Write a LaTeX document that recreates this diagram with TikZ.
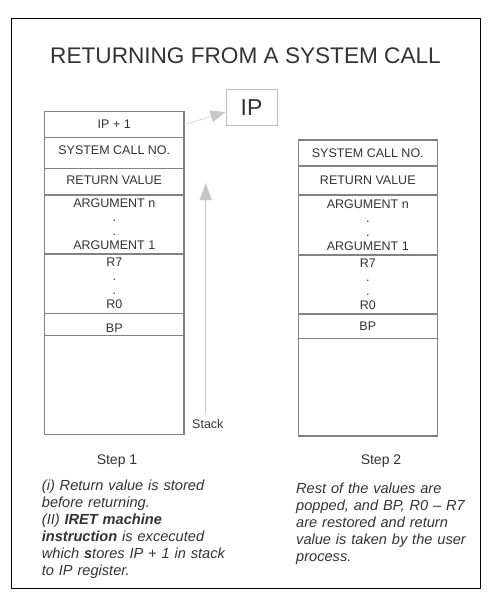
\documentclass[tikz,border=0pt]{standalone}
\usepackage{fontspec}
\setmainfont{Liberation Sans}
\usetikzlibrary{arrows.meta,calc}
\definecolor{boxline}{HTML}{828282}
\definecolor{txt}{HTML}{333333}
\definecolor{arrowgray}{HTML}{C6C6C6}
\definecolor{ipline}{HTML}{BDBDBD}
\begin{document}
\begin{tikzpicture}[x=1pt,y=-1pt,
  cell/.style={draw=boxline, line width=1.2pt, inner sep=0pt, minimum width=139.5pt,
    text=txt, font=\fontsize{12.5}{14}\selectfont},
  mcell/.style={cell, align=center},
  steplabel/.style={text=txt, font=\fontsize{14}{16}\selectfont, inner sep=0pt},
  para/.style={text=txt, font=\fontsize{14.6}{17}\selectfont\itshape, inner sep=0pt,
    text width=230pt, align=left, anchor=base west},
  grayarrow/.style={draw=arrowgray, line width=1pt,
    -{Triangle[length=17pt,width=12pt,fill=arrowgray]}}]
\useasboundingbox (0,0) rectangle (487,604);
% frame
\node[draw=black, line width=0.9pt, minimum width=469pt, minimum height=570pt, inner sep=0pt] (frame) at (246,303.5) {};
% title
\node[text=txt, font=\fontsize{22.6}{26}\selectfont, anchor=base, inner sep=0pt] (title) at (245.5,63.3) {RETURNING FROM A SYSTEM CALL};
% left stack
\node[cell, minimum height=25.6pt] (l1) at (114.25,124.5) {IP + 1};
\node[cell, minimum height=31pt, text height=4pt, text depth=0pt] (l2) at (114.25,152.8) {SYSTEM CALL NO.};
\node[cell, minimum height=26.7pt, text height=5pt, text depth=0pt] (l3) at (114.25,181.65) {RETURN VALUE};
\node[mcell, minimum height=59pt] (l4) at (114.25,224.5) {ARGUMENT n\\.\\.\\ARGUMENT 1};
\node[mcell, minimum height=59.3pt] (l5) at (114.25,283.65) {R7\\.\\.\\R0};
\node[cell, minimum height=22.4pt, text height=15pt, text depth=0pt] (l6) at (114.25,324.5) {BP};
\node[cell, minimum height=98.6pt] (l7) at (114.25,385) {};
% right stack
\node[cell, minimum width=139pt, minimum height=26pt] (r1) at (367.8,153) {SYSTEM CALL NO.};
\node[cell, minimum width=139pt, minimum height=29pt] (r2) at (367.8,180.5) {RETURN VALUE};
\node[mcell, minimum width=139pt, minimum height=60pt] (r3) at (367.8,225) {ARGUMENT n\\.\\.\\ARGUMENT 1};
\node[mcell, minimum width=139pt, minimum height=59pt] (r4) at (367.8,284.5) {R7\\.\\.\\R0};
\node[cell, minimum width=139pt, minimum height=24.3pt] (r5) at (367.8,326.15) {BP};
\node[cell, minimum width=139pt, minimum height=97.7pt] (r6) at (367.8,387.15) {};
% IP box
\node[draw=ipline, line width=1pt, minimum width=51pt, minimum height=36pt, inner sep=0pt,
  text=txt, font=\fontsize{23}{26}\selectfont] (ip) at (251.5,108) {IP};
\draw[draw=arrowgray, line width=1pt, densely dotted,
  -{Triangle[length=15pt,width=12pt,fill=arrowgray]}] (l1.east) -- ([yshift=-4pt]ip.west);
% stack arrow
\coordinate (sbot) at (205.7,413);
\coordinate (stop) at (205.7,183);
\draw[grayarrow] (sbot) -- (stop);
\node[text=txt, font=\fontsize{12.5}{14}\selectfont, inner sep=0pt, anchor=west] (stack) at (192,424.5) {Stack};
% step labels
\node[steplabel] (step1) at (117,461.5) {Step 1};
\node[steplabel] (step2) at (381,461.5) {Step 2};
% paragraphs
\node[para] (p1) at (41.7,490.7) {(i) Return value is stored\\
before returning.\\
(II) \textbf{IRET machine}\\
\textbf{instruction} is excecuted\\
which \textbf{s}tores IP + 1 in stack\\
to IP register.};
\node[para] (p2) at (296,493.3) {Rest of the values are\\
popped, and BP, R0 – R7\\
are restored and return\\
value is taken by the user\\
process.};
\end{tikzpicture}
\end{document}
